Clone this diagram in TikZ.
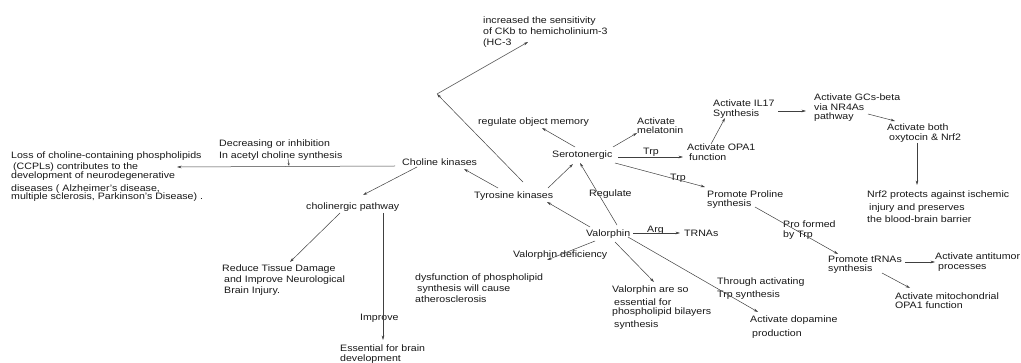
\documentclass[tikz,border=0pt]{standalone}
\usepackage{fontspec}
\setmainfont[FakeStretch=1.14]{Liberation Sans}
\usetikzlibrary{arrows.meta,calc}
\begin{document}
\begin{tikzpicture}[x=1pt,y=-1pt,
  txt/.style={inner sep=0pt, anchor=base west, text=black!90,
              font=\fontsize{9.3}{#1}\selectfont\setlength{\lineskiplimit}{-20pt}},
  txt/.default=10,
  arr/.style={draw=black!75, line width=0.5pt, -{Stealth[length=4.5pt,width=2.6pt]}}]
\useasboundingbox[fill=white] (0,0) rectangle (1021,363);

% ---- text nodes ----
\node[txt=11] (inc) at (483,24) {\vtop{\hbox{increased the sensitivity}\hbox{of CKb to hemicholinium-3}\hbox{(HC-3}}};
\node[txt] (rom) at (478,125) {regulate object memory};
\node[txt] (ser) at (552,158) {Serotonergic};
\node[txt=9] (mel) at (637,125) {\vtop{\hbox{Activate}\hbox{melatonin}}};
\node[txt] (opa) at (687,151) {\vtop{\hbox{Activate OPA1}\hbox{\hspace{2pt}function}}};
\node[txt] (il17) at (713,107) {\vtop{\hbox{Activate IL17}\hbox{Synthesis}}};
\node[txt=9.5] (gcs) at (814,101) {\vtop{\hbox{Activate GCs-beta}\hbox{via NR4As}\hbox{pathway}}};
\node[txt] (both) at (887,131) {\vtop{\hbox{Activate both}\hbox{\hspace{2pt}oxytocin \& Nrf2}}};
\node[txt=12.5] (nrf) at (867,198) {\vtop{\hbox{Nrf2 protects against ischemic}\hbox{\hspace{2pt}injury and preserves}\hbox{the blood-brain barrier}}};
\node[txt=9] (pro) at (707,198) {\vtop{\hbox{Promote Proline}\hbox{synthesis}}};
\node[txt=9] (trna) at (828,263) {\vtop{\hbox{Promote tRNAs}\hbox{synthesis}}};
\node[txt] (anti) at (935,260) {\vtop{\hbox{Activate antitumor}\hbox{\hspace{3pt}processes}}};
\node[txt=9] (mito) at (895,300) {\vtop{\hbox{Activate mitochondrial}\hbox{OPA1 function}}};
\node[txt] (val) at (586,237) {Valorphin};
\node[txt] (tyr) at (474,199) {Tyrosine kinases};
\node[txt] (cho) at (402,166) {Choline kinases};
\node[txt=8.8] (loss) at (11,159) {\vtop{\hbox{Loss of choline-containing phospholipids}\vskip2.2pt\hbox{\hspace{2pt}(CCPLs) contributes to the}\hbox{development of neurodegenerative}\vskip3.6pt\hbox{diseases ( Alzheimer's disease,}\hbox{multiple sclerosis, Parkinson's Disease) .}}};
\node[txt=12] (dec) at (219,147) {\vtop{\hbox{Decreasing or inhibition}\hbox{In acetyl choline synthesis}}};
\node[txt] (chp) at (306,210) {cholinergic pathway};
\node[txt=11] (red) at (222,272) {\vtop{\hbox{Reduce Tissue Damage}\hbox{\hspace{2pt}and Improve Neurological}\hbox{\hspace{2pt}Brain Injury.}}};
\node[txt] (imp) at (360,321) {Improve};
\node[txt] (ess) at (340,352) {\vtop{\hbox{Essential for brain}\hbox{development}}};
\node[txt] (vdef) at (513,258) {Valorphin deficiency};
\node[txt=11] (dys) at (415,281) {\vtop{\hbox{dysfunction of phospholipid}\hbox{\hspace{2pt}synthesis will cause}\hbox{atherosclerosis}}};
\node[txt=9] (vess) at (612,293) {\vtop{\hbox{Valorphin are so}\vskip4pt\hbox{\hspace{2pt}essential for}\hbox{phospholipid bilayers}\vskip4pt\hbox{\hspace{2pt}synthesis}}};
\node[txt=13] (thr) at (717,285) {\vtop{\hbox{Through activating}\hbox{Trp synthesis}}};
\node[txt=14] (dop) at (750,323) {\vtop{\hbox{Activate dopamine}\hbox{\hspace{2pt}production}}};
\node[txt] (arg) at (647,233) {Arg};
\node[txt] (trnas) at (684,237) {TRNAs};
\node[txt] (trpa) at (643,155) {Trp};
\node[txt] (trpb) at (670,181) {Trp};
\node[txt] (reg) at (589,197) {Regulate};
\node[txt] (pfb) at (783,228) {\vtop{\hbox{Pro formed}\hbox{by Trp}}};

\coordinate (bend) at (437,94);

% ---- connectors ----
\draw[arr] ($(tyr.base west)+(49,-17)$) -- (bend);
\draw[arr] (bend) -- ($(inc.base west)+(45,18)$);
\draw[arr] ($(ser.base west)+(23,-11)$) -- ($(rom.base west)+(64,3)$);
\draw[arr] ($(ser.base west)+(61,-11)$) -- ($(mel.base west)+(0,8)$);
\draw[arr] ($(ser.base west)+(66,-1)$) -- ($(opa.base west)+(-4,6)$);
\draw[arr] ($(opa.base west)+(24,-7)$) -- ($(il17.base west)+(12,11)$);
\draw[arr] ($(il17.base west)+(65,4)$) -- ($(gcs.base west)+(-8,10)$);
\draw[arr] ($(gcs.base west)+(54,13)$) -- ($(both.base west)+(8,-10)$);
\draw[arr] ($(both.base west)+(30,12)$) -- ($(nrf.base west)+(50,-13)$);
\draw[arr] ($(ser.base west)+(63,5)$) -- ($(pro.base west)+(-2,-11)$);
\draw[arr] ($(pro.base west)+(48,9)$) -- ($(trna.base west)+(10,-9)$);
\draw[arr] ($(trna.base west)+(77,-1)$) -- ($(anti.base west)+(0,2)$);
\draw[arr] ($(trna.base west)+(54,10)$) -- ($(mito.base west)+(15,-12)$);
\draw[arr] ($(val.base west)+(31,-12)$) -- ($(ser.base west)+(28,5)$);
\draw[arr] ($(val.base west)+(4,-10)$) -- ($(tyr.base west)+(73,3)$);
\draw[arr] ($(tyr.base west)+(74,-11)$) -- ($(ser.base west)+(21,6)$);
\draw[arr] ($(tyr.base west)+(24,-11)$) -- ($(cho.base west)+(62,3)$);
\draw[arr] ($(cho.base west)+(-7,0)$) -- ($(loss.base west)+(166,8)$);
\draw[arr, -{Stealth[length=3pt,width=2pt]}] ($(dec.base west)+(69,12)$) -- ($(dec.base west)+(70,19)$);
\draw[arr] ($(cho.base west)+(15,1)$) -- ($(chp.base west)+(57,-15)$);
\draw[arr] ($(chp.base west)+(34,3)$) -- ($(red.base west)+(68,-10)$);
\draw[arr] ($(chp.base west)+(77,3)$) -- ($(ess.base west)+(43,-12)$);
\draw[arr] ($(val.base west)+(9,4)$) -- ($(dys.base west)+(132,-21)$);
\draw[arr] ($(val.base west)+(29,5)$) -- ($(vess.base west)+(42,-11)$);
\draw[arr] ($(val.base west)+(42,0)$) -- ($(dop.base west)+(8,-11)$);
\draw[arr] ($(val.base west)+(47,-4)$) -- ($(trnas.base west)+(-4,-4)$);
\end{tikzpicture}
\end{document}
